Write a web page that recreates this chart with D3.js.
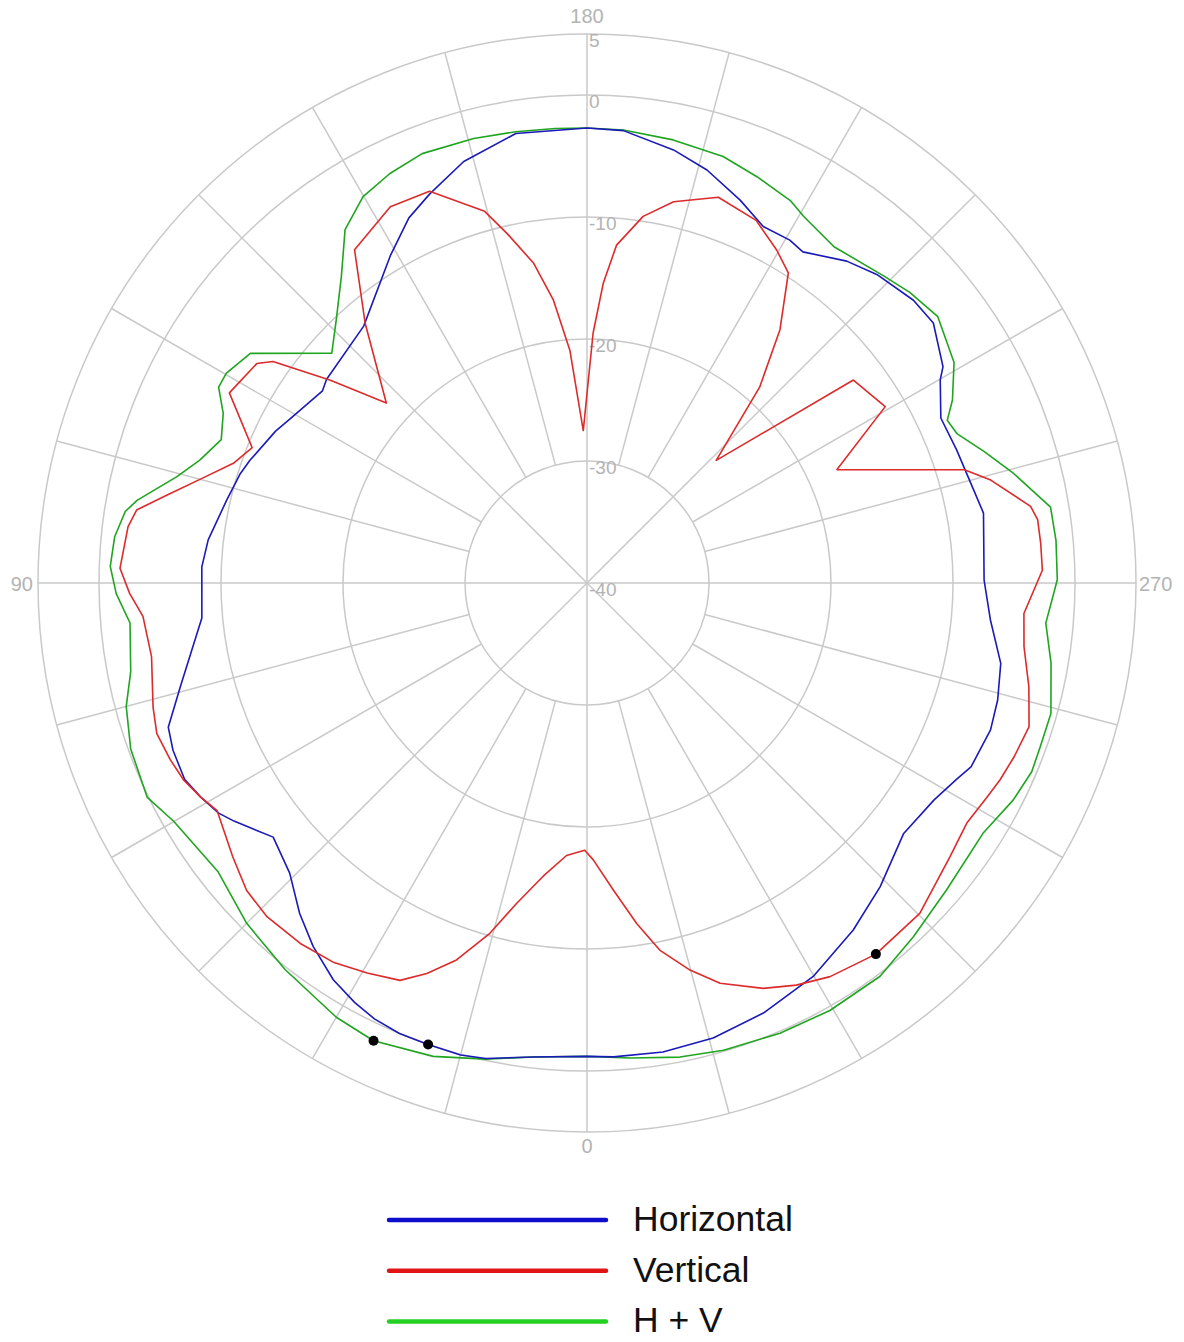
<!DOCTYPE html>
<html>
<head>
<meta charset="utf-8">
<script src="https://cdn.jsdelivr.net/npm/d3@7"></script>
<style>
  body { margin: 0; background: #fff; }
  svg { display: block; }
</style>
</head>
<body>
<div id="chart"></div>
<script>
// Lecturas del diagrama: [angulo en grados, nivel en dB]
const horizontal = [
  [0, -1.2], [6.5, -0.9], [12, -0.15], [15, 0.05], [19, 0], [22.6, 0], [26, -0.25], [29, -0.7],
  [32.6, -1.4], [37, -2.7], [41, -4.1], [45.7, -5.95], [51, -6.9], [56, -5.1], [58, -4.4], [61, -3.8],
  [64, -3.3], [68, -3.4], [71, -3.7], [75.7, -5.6], [84.8, -8.3], [92.4, -8.4], [96.5, -8.75],
  [103, -9.7], [107.5, -10.2], [110, -10.6], [116, -11.6], [119, -12.2], [126, -13.2], [128, -12.9],
  [139, -12.1], [149, -8.7], [154, -6.7], [158, -5.6], [163.7, -4.0], [171, -2.7], [180, -2.7],
  [184.6, -2.8], [191.3, -3.8], [196.2, -4.75], [201.8, -6.2], [206.3, -7.4], [210.6, -7.35],
  [213.1, -7.6], [218.9, -6.1], [223.2, -5.3], [229.1, -4.6], [233.1, -4.5], [238.7, -5.85],
  [240.1, -6.6], [245, -8.0], [250.2, -7.8], [256.5, -7.4], [260, -7.0], [269.6, -7.45],
  [275.2, -6.8], [281, -5.45], [285.9, -5.0], [290, -4.8], [295.6, -5.1], [298, -5.7], [302, -6.45],
  [308.4, -6.9], [316, -5.4], [322.5, -4.15], [330.1, -2.8], [337.7, -1.9], [344.5, -1.3],
  [350.8, -1.05], [356.8, -1.1]
];

const vertical = [
  [0.5, -18.1], [4.3, -17.6], [8.5, -15.7], [12.4, -13.1], [15.5, -10.2], [19.1, -7.3], [22.3, -5.4],
  [25.2, -4.0], [29.4, -3.3], [33.8, -2.6], [38.5, -2.25], [43.8, -2.1], [47.9, -2.4], [52.3, -3.3],
  [58.4, -4.4], [61, -3.8], [64, -3.2], [67, -2.9], [70.7, -2.64], [74, -3.0], [80.4, -3.8],
  [85.7, -3.5], [88.7, -2.5], [91.8, -1.7], [97, -2.1], [99.2, -2.6], [101.8, -4.8], [105.2, -7.3],
  [108.7, -9.4], [112, -10.4], [118, -6.8], [123.6, -7.5], [125.2, -8.5], [128.3, -13.2],
  [131.9, -17.9], [139.5, -12.0], [145.1, -6.7], [152.4, -5.2], [158.1, -5.4], [164.6, -8.4],
  [167.1, -10.6], [170.5, -13.4], [173.2, -16.6], [175.8, -20.9], [178.6, -27.5], [181.4, -19.5],
  [183.1, -15.4], [185, -12.2], [188.7, -9.6], [192.8, -7.95], [198.8, -6.6], [205, -7.2],
  [209.7, -8.6], [213, -9.7], [217.3, -13.9], [221.4, -18.6], [226.5, -25.4], [232.7, -12.55],
  [239.4, -11.6], [245.6, -17.5], [253.3, -7.7], [255.7, -5.85], [260.2, -3.1], [262, -2.7],
  [265, -2.67], [268.4, -2.66], [274, -4.1], [278.3, -3.8], [283.2, -2.8], [288, -1.9], [292.1, -2.2],
  [295.5, -2.5], [298.1, -2.8], [302.3, -3.17], [307, -2.74], [314.8, -1.56], [322.1, -1.45],
  [328.3, -2.08], [332.5, -2.84], [336.5, -3.77], [341.6, -5.43], [345.1, -7.17], [348.8, -9.33],
  [351.7, -11.8], [355.1, -14.75], [358.7, -17.3]
];

const hPlusV = [
  [0, -1.2], [6.5, -0.9], [12, -0.1], [18, 0.8], [25, 1.4], [30, 1.1], [38, 0.2], [45, -0.55],
  [52, -1.6], [60, -0.9], [64, 0.1], [70, -0.2], [75, -0.9], [79, -1.9], [85, -2.4], [88.7, -1.4],
  [92, -0.9], [95.6, -1.1], [98.8, -1.7], [100.4, -2.5], [104.5, -5.25], [107.6, -6.7], [111.4, -7.8],
  [115, -7.1], [118, -5.8], [120.2, -5.8], [124.3, -6.6], [132, -11.85], [136.4, -10.2], [141.3, -7.8],
  [145.6, -4.9], [149.9, -3.4], [154.3, -2.75], [159, -2.3], [165.7, -2.4], [171, -2.55], [176, -2.65],
  [180, -2.7], [184.6, -2.75], [191, -3.0], [197.7, -3.3], [202.7, -3.9], [208, -4.5], [210.6, -5.1],
  [216.3, -5.8], [224, -5.0], [228, -4.4], [232.8, -3.9], [239, -4.9], [243.4, -6.5], [245.7, -7.6],
  [248, -7.3], [251.7, -5.7], [255.6, -3.9], [260.7, -1.5], [264.8, -1.4], [269.6, -1.45],
  [275, -2.25], [279.8, -1.4], [285.7, -0.5], [289.8, -0.5], [293, -0.4], [297, -0.8], [302.3, -1.6],
  [310.5, -1.25], [317.3, -0.55], [323.3, 0.2], [330.4, 0.3], [336.8, 0.15], [343.7, -0.1],
  [348.9, -0.4], [354.8, -0.9]
];

// puntos negros (maximos marcados)
const peakAngles = [25, 19, 322.1];
const peakValues = [1.4, 0, -1.45];

const ringTicks = [5, 0, -10, -20, -30, -40];
const gridRings = [5, 0, -10, -20, -30];
const angleLabels = [0, 90, 180, 270];
const seriesNames = ['Horizontal', 'Vertical', 'H + V'];

// estilos
const COLORS = ['#1a1ab8', '#dd2a2a', '#1fa51f'];
const LEGEND_COLORS = ['#0d0dcc', '#e01414', '#25d025'];
const GRID = '#c9c9c9';
const LABEL = '#b3b3b3';
const FONT = '"Liberation Sans", Arial, sans-serif';

// Dimensiones
const width = 1184;
const height = 1342;
const center = { x: 587, y: 583 };
const outerR = 549;

const svg = d3.select('#chart')
  .append('svg')
  .attr('width', width)
  .attr('height', height);

const escalaR = d3.scaleLinear()
  .domain([-40, 5])
  .range([0, outerR]);

// 0 grados abajo, sentido horario (90 a la izquierda)
const toRad = (a) => (a + 180) * Math.PI / 180;
const polar = (a, r) => [r * Math.sin(toRad(a)), -r * Math.cos(toRad(a))];

const plot = svg.append('g')
  .attr('transform', `translate(${center.x}, ${center.y})`);

// circulos de la grilla
plot.append('g')
  .selectAll('circle')
  .data(gridRings)
  .join('circle')
  .attr('r', (d) => escalaR(d))
  .attr('fill', 'none')
  .attr('stroke', GRID)
  .attr('stroke-width', 1.5);

// radios cada 15 grados; los de 45 llegan al centro
plot.append('g')
  .selectAll('line')
  .data(d3.range(0, 360, 15))
  .join('line')
  .attr('x1', (d) => polar(d, d % 45 === 0 ? 0 : escalaR(-30))[0])
  .attr('y1', (d) => polar(d, d % 45 === 0 ? 0 : escalaR(-30))[1])
  .attr('x2', (d) => polar(d, outerR)[0])
  .attr('y2', (d) => polar(d, outerR)[1])
  .attr('stroke', GRID)
  .attr('stroke-width', 1.5);

// etiquetas de dB
plot.append('g')
  .selectAll('text')
  .data(ringTicks)
  .join('text')
  .attr('x', 2)
  .attr('y', (d) => -escalaR(d) + 13)
  .attr('fill', LABEL)
  .style('font-family', FONT)
  .style('font-size', '19px')
  .text((d) => d);

// etiquetas de angulo
const angleLabelPos = {
  0: { x: 0, y: outerR + 21, anchor: 'middle' },
  90: { x: -outerR - 5, y: 8, anchor: 'end' },
  180: { x: 0, y: -outerR - 11, anchor: 'middle' },
  270: { x: outerR + 3, y: 8, anchor: 'start' }
};

plot.append('g')
  .selectAll('text')
  .data(angleLabels)
  .join('text')
  .attr('x', (d) => angleLabelPos[d].x)
  .attr('y', (d) => angleLabelPos[d].y)
  .attr('text-anchor', (d) => angleLabelPos[d].anchor)
  .attr('fill', LABEL)
  .style('font-family', FONT)
  .style('font-size', '20px')
  .text((d) => d);

// curvas
const linea = d3.lineRadial()
  .angle((d) => toRad(d[0]))
  .radius((d) => escalaR(d[1]))
  .curve(d3.curveLinearClosed);

const series = [horizontal, vertical, hPlusV];

plot.append('g')
  .selectAll('path')
  .data([hPlusV, horizontal, vertical])
  .join('path')
  .attr('d', (d) => linea(d))
  .attr('fill', 'none')
  .attr('stroke', (d) => COLORS[series.indexOf(d)])
  .attr('stroke-width', 1.6)
  .attr('stroke-linejoin', 'round');

// marcadores
plot.append('g')
  .selectAll('circle')
  .data(peakAngles)
  .join('circle')
  .attr('cx', (d, i) => polar(d, escalaR(peakValues[i]))[0])
  .attr('cy', (d, i) => polar(d, escalaR(peakValues[i]))[1])
  .attr('r', 5)
  .attr('fill', 'black');

// leyenda
const legend = svg.append('g')
  .attr('transform', 'translate(389, 1220)');

const items = legend.selectAll('g')
  .data(seriesNames)
  .join('g')
  .attr('transform', (d, i) => `translate(0, ${i * 50.7})`);

items.append('line')
  .attr('x1', 0)
  .attr('x2', 217)
  .attr('stroke', (d, i) => LEGEND_COLORS[i])
  .attr('stroke-width', 4.5)
  .attr('stroke-linecap', 'round');

items.append('text')
  .attr('x', 244)
  .attr('y', 11)
  .attr('fill', '#111')
  .style('font-family', FONT)
  .style('font-size', '35.5px')
  .text((d) => d);
</script>
</body>
</html>
